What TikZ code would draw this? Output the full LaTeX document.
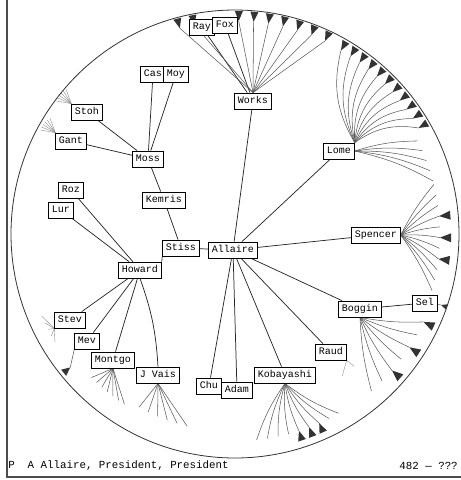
\documentclass[tikz,border=0pt]{standalone}
\usepackage{fontspec}
\setmonofont{Liberation Mono}
\usetikzlibrary{calc,backgrounds}
\begin{document}
\begin{tikzpicture}[x=0.75pt,y=-0.75pt,
  lbl/.style={draw=black, line width=0.6pt, fill=white, font=\ttfamily\fontsize{7.5}{8}\selectfont, inner xsep=2.5pt, inner ysep=0pt, minimum height=12pt, text height=5.5pt, text depth=1.5pt},
  status/.style={font=\ttfamily\fontsize{8.1}{9}\selectfont, inner sep=0pt},
  edge/.style={line width=0.55pt, black!85},
  leaf/.style={line width=0.4pt, black!65},
  twig/.style={line width=0.3pt, black!45},
  wedge/.style={fill=black!80}]
\useasboundingbox (0,0) rectangle (461,480);
\coordinate (C) at (235,234);
\draw[line width=0.6pt, black!80] (C) circle[radius=224];
% frame
\draw[line width=0.8pt, black!70] (7,0) -- (7,477) -- (461,477);

% labelled nodes
\node[lbl] (allaire) at (233,250) {Allaire};
\node[lbl] (stiss) at (181,248) {Stiss};
\node[lbl] (kemris) at (164,200) {Kemris};
\node[lbl] (moss) at (148,159) {Moss};
\node[lbl] (cas) at (153,74) {Cas};
\node[lbl] (moy) at (176,74) {Moy};
\node[lbl] (stoh) at (87,112) {Stoh};
\node[lbl] (gant) at (71,141) {Gant};
\node[lbl] (works) at (253,101) {Works};
\node[lbl] (ray) at (202,27) {Ray};
\node[lbl] (fox) at (225,25) {Fox};
\node[lbl] (lome) at (339,151) {Lome};
\node[lbl] (spencer) at (376,235) {Spencer};
\node[lbl] (boggin) at (360,309) {Boggin};
\node[lbl] (sel) at (425,303) {Sel};
\node[lbl] (raud) at (331,352) {Raud};
\node[lbl] (kobayashi) at (285,375) {Kobayashi};
\node[lbl] (adam) at (237,390) {Adam};
\node[lbl] (chu) at (209,386) {Chu};
\node[lbl] (jvais) at (158,375) {J Vais};
\node[lbl] (montgo) at (113,360) {Montgo};
\node[lbl] (mev) at (87,341) {Mev};
\node[lbl] (stev) at (70,320) {Stev};
\node[lbl] (howard) at (140,270) {Howard};
\node[lbl] (roz) at (71,190) {Roz};
\node[lbl] (lur) at (61,210) {Lur};

% status bar
\node[status, anchor=west] (statusL) at (8,466) {P\ \ A Allaire, President, President};
\node[status, anchor=east] (statusR) at (458,466) {482 — ???};

\begin{pgfonlayer}{background}
% main tree
\draw[edge] (allaire) -- (stiss);
\draw[edge] (allaire) -- (works);
\draw[edge] (allaire) -- (lome);
\draw[edge] (allaire) -- (spencer);
\draw[edge] (allaire) -- (boggin);
\draw[edge] (allaire) -- (raud);
\draw[edge] (allaire) -- (kobayashi);
\draw[edge] (allaire) -- (adam);
\draw[edge] (allaire) -- (chu);
\draw[edge] (stiss) -- (kemris);
\draw[edge] (kemris) -- (moss);
\draw[edge] (stiss.south west) -- (howard.north east);
\draw[edge] (moss) -- (cas);
\draw[edge] (moss) -- (moy);
\draw[edge] (moss) -- (stoh);
\draw[edge] (moss) -- (gant);
\draw[edge] (works) -- (ray);
\draw[edge] (works) -- (fox);
\draw[edge] (howard) -- (roz);
\draw[edge] (howard) -- (lur);
\draw[edge] (howard) -- (stev);
\draw[edge] (howard) -- (mev);
\draw[edge] (howard) -- (montgo);
\draw[edge] (howard.south) to[bend left=8] (jvais.north);
\draw[edge] (boggin) -- (sel);

% Works fan
\foreach \a [count=\i] in {-105,-101,-89,-85,-81,-77,-73,-69,-65} {
  \coordinate (wk\i) at ($(C)+(\a:213)$);
  \draw[leaf] (works.north) -- (wk\i);
  \fill[wedge] (wk\i) -- ($(wk\i)!-8pt!22:(C)$) -- ($(wk\i)!-8pt!-22:(C)$) -- cycle;
}
% Lome fan
\foreach \a [count=\i] in {-60,-57,-54,-51,-48,-45,-42,-39,-36,-33,-30} {
  \coordinate (lm\i) at ($(C)+(\a:212)$);
  \draw[leaf] (lome.north east) to[bend left=22] (lm\i);
  \fill[wedge] (lm\i) -- ($(lm\i)!-8pt!22:(C)$) -- ($(lm\i)!-8pt!-22:(C)$) -- cycle;
}
\foreach \a [count=\i] in {-27,-24,-21,-18,-15} {
  \coordinate (ln\i) at ($(C)+(\a:205)$);
  \draw[leaf] (lome.east) to[bend left=8] (ln\i);
}
% Spencer fan
\foreach \a [count=\i] in {-14,-11,-8,-5,-2,1,4,7,10,13,16} {
  \coordinate (sp\i) at ($(C)+(\a:205)$);
  \draw[leaf] (spencer.east) to[bend left=6] (sp\i);
}
\foreach \i in {4,6,8} {
  \fill[wedge] (sp\i) -- ($(sp\i)!-9pt!22:(C)$) -- ($(sp\i)!-9pt!-22:(C)$) -- cycle;
}
% Boggin fan
\foreach \a [count=\i] in {25,29,33,37,41,45,49} {
  \coordinate (bg\i) at ($(C)+(\a:208)$);
  \draw[leaf] (boggin.south) to[bend right=6] (bg\i);
}
\foreach \i in {1,3,5} {
  \fill[wedge] (bg\i) -- ($(bg\i)!-9pt!22:(C)$) -- ($(bg\i)!-9pt!-22:(C)$) -- cycle;
}
\coordinate (sl1) at ($(C)+(19:218)$);
\draw[leaf] (sel) -- (sl1);
\fill[wedge] (sl1) -- ($(sl1)!-5pt!25:(C)$) -- ($(sl1)!-5pt!-25:(C)$) -- cycle;
% Raud twigs
\foreach \a [count=\i] in {48,53} {
  \coordinate (rd\i) at ($(C)+(\a:178)$);
  \draw[twig] (raud.south east) -- (rd\i);
}
% Kobayashi fan
\foreach \a [count=\i] in {60,63,66,69,72,75,78,81,84} {
  \coordinate (kb\i) at ($(C)+(\a:207)$);
  \draw[leaf] (kobayashi.south) to[bend right=8] (kb\i);
}
\foreach \i in {3,4,5} {
  \fill[wedge] (kb\i) -- ($(kb\i)!-8pt!22:(C)$) -- ($(kb\i)!-8pt!-22:(C)$) -- cycle;
}
% J Vais fan
\foreach \a [count=\i] in {104,107,110,113,116,119} {
  \coordinate (jv\i) at ($(C)+(\a:198)$);
  \draw[leaf] (jvais.south) -- (jv\i);
}
% Montgo fan
\foreach \a [count=\i] in {123,125,127,129,131,133,135} {
  \coordinate (mg\i) at ($(C)+(\a:203)$);
  \draw[leaf] (montgo.south) -- (mg\i);
}
% Mev
\coordinate (mv1) at ($(C)+(141:212)$);
\draw[leaf] (mev.south west) -- (mv1);
\fill[wedge] (mv1) -- ($(mv1)!-7pt!25:(C)$) -- ($(mv1)!-7pt!-25:(C)$) -- cycle;
% Stev fan
\foreach \a [count=\i] in {149,151,153,155,157} {
  \coordinate (sv\i) at ($(C)+(\a:210)$);
  \draw[twig] (stev.south west) -- (sv\i);
}
% Howard fan
\foreach \p [count=\i] in {(60,229),(51,246),(46,263),(47,281),(52,298),(60,306)} {
  \coordinate (hw\i) at \p;
  \draw[leaf] (howard.west) -- (hw\i);
}
% Moss fan
\foreach \p [count=\i] in {(104,90),(121,78),(137,66)} {
  \coordinate (ms\i) at \p;
  \draw[leaf] (moss.north west) -- (ms\i);
}
% Stoh and Gant twigs
\foreach \a [count=\i] in {-170,-158,-146,-134,-122,-110} {
  \coordinate (st\i) at ($(stoh.north west)+(\a:15)$);
  \draw[twig] (stoh.north west) -- (st\i);
  \coordinate (gt\i) at ($(gant.north west)+(\a:15)$);
  \draw[twig] (gant.north west) -- (gt\i);
}
\end{pgfonlayer}
\end{tikzpicture}
\end{document}
